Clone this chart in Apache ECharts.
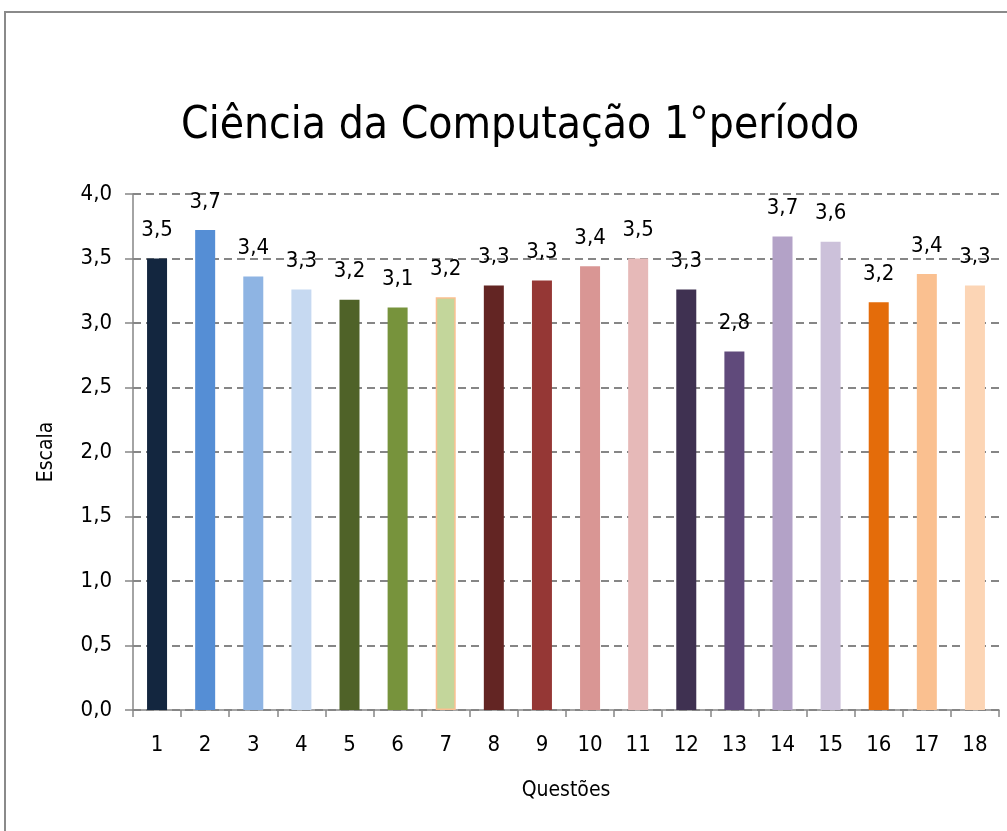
<!DOCTYPE html>
<html>
<head>
<meta charset="utf-8">
<script src="https://cdn.jsdelivr.net/npm/echarts@6/dist/echarts.min.js"></script>
<style>
  html, body { margin: 0; padding: 0; background: #fff; }
  #main { width: 1007px; height: 831px; }
</style>
</head>
<body>
<div id="main"></div>
<script>
// dados
var questoes = ['1', '2', '3', '4', '5', '6', '7', '8', '9', '10', '11', '12', '13', '14', '15', '16', '17', '18'];
var medias = [3.50, 3.72, 3.36, 3.26, 3.18, 3.12, 3.20, 3.29, 3.33, 3.44, 3.50, 3.26, 2.78, 3.67, 3.63, 3.16, 3.38, 3.29];
var cores = ['#13263f', '#558ed5', '#8eb4e3', '#c6d9f1', '#4f6228', '#77933c', '#c3d69b', '#632523', '#953735',
    '#d99694', '#e6b9b8', '#3f3151', '#604a7b', '#b3a2c7', '#ccc1da', '#e46c0a', '#fac090', '#fcd5b5'];
// contorno das barras (só a 7 tem contorno laranja)
var bordas = [null, null, null, null, null, null, '#fac090', null, null,
    null, null, null, null, null, null, null, null, null];

var fonte = '"Liberation Sans Narrow", "DejaVu Sans Condensed", sans-serif';

function virgula(v) {
    return Number(v).toFixed(1).replace('.', ',');
}

var dados = medias.map(function (v, i) {
    var item = {value: v, itemStyle: {color: cores[i]}};
    if (bordas[i]) {
        item.itemStyle.borderColor = bordas[i];
        item.itemStyle.borderWidth = 1.5;
    }
    return item;
});

var myChart = echarts.init(document.getElementById('main'));

var option = {
    backgroundColor: '#fff',
    animation: false,
    textStyle: {fontFamily: fonte},
    graphic: [{
        type: 'rect',
        shape: {x: 5, y: 12, width: 1100, height: 900},
        style: {fill: 'none', stroke: '#8a8a8a', lineWidth: 2}
    }],
    title: {
        text: 'Ciência da Computação 1°período',
        left: 176,
        top: 100,
        textStyle: {fontFamily: fonte, fontSize: 44, fontWeight: 'normal', color: '#000'}
    },
    grid: {left: 133, right: 8, top: 194, bottom: 121},
    xAxis: {
        type: 'category',
        data: questoes,
        name: 'Questões',
        nameLocation: 'middle',
        nameGap: 70,
        nameTextStyle: {fontFamily: fonte, fontSize: 21, color: '#000'},
        axisLine: {lineStyle: {color: '#868686', width: 1.5}},
        axisTick: {show: true, length: 7, lineStyle: {color: '#868686', width: 1.5}},
        axisLabel: {fontFamily: fonte, fontSize: 22, color: '#000', margin: 24}
    },
    yAxis: {
        type: 'value',
        min: 0,
        max: 4,
        interval: 0.5,
        name: 'Escala',
        nameLocation: 'middle',
        nameGap: 76,
        nameTextStyle: {fontFamily: fonte, fontSize: 21, color: '#000'},
        axisLine: {show: true, lineStyle: {color: '#868686', width: 1.5}},
        axisTick: {show: true, length: 8, lineStyle: {color: '#868686', width: 1.5}},
        axisLabel: {fontFamily: fonte, fontSize: 22, color: '#000', margin: 21, formatter: virgula},
        splitLine: {lineStyle: {color: '#868686', type: [8, 5], width: 2}}
    },
    series: [{
        type: 'bar',
        data: dados,
        barWidth: 20,
        label: {
            show: true,
            position: 'top',
            distance: 17,
            fontFamily: fonte,
            fontSize: 22,
            color: '#000',
            formatter: function (p) { return virgula(p.value); }
        }
    }]
};

myChart.setOption(option);
</script>
</body>
</html>
